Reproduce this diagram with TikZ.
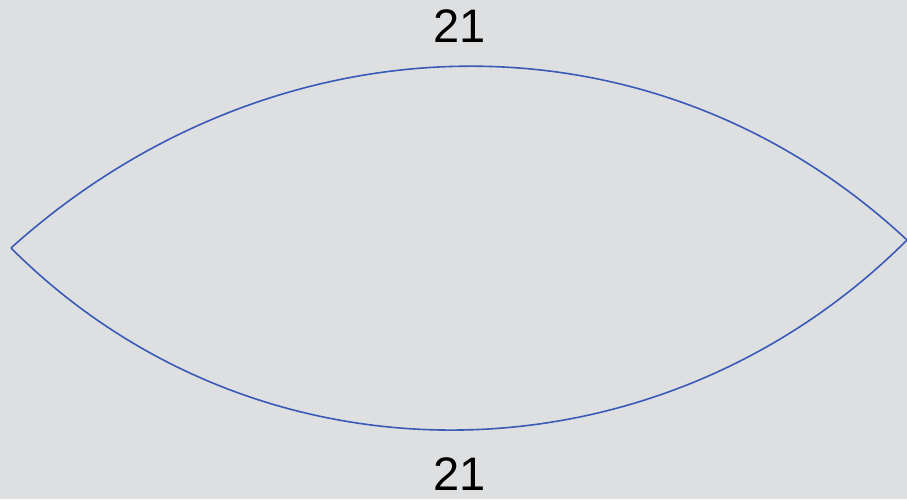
\documentclass[tikz,border=0pt]{standalone}
\usepackage{fontspec}
\setmainfont{Liberation Sans}
\definecolor{lensbg}{RGB}{222,223,225}
\definecolor{lensblue}{RGB}{58,90,184}
\usetikzlibrary{positioning}

\begin{document}
\begin{tikzpicture}[x=1pt,y=1pt,
  edge/.style={draw=lensblue,line width=1.6pt},
  lbl/.style={inner sep=0pt,font=\fontsize{47}{47}\selectfont}]
  \useasboundingbox[fill=lensbg] (0,0) rectangle (907,499);
  \coordinate (tipL) at (11,251);
  \coordinate (tipR) at (907,259);
  \draw[edge] (tipL) to[out=42,in=137] (tipR);
  \draw[edge] (tipL) to[out=-45,in=-135] (tipR);
  \node[lbl] (top) at (460,473) {21};
  \node[lbl] (bot) at (460,25) {21};
\end{tikzpicture}
\end{document}
